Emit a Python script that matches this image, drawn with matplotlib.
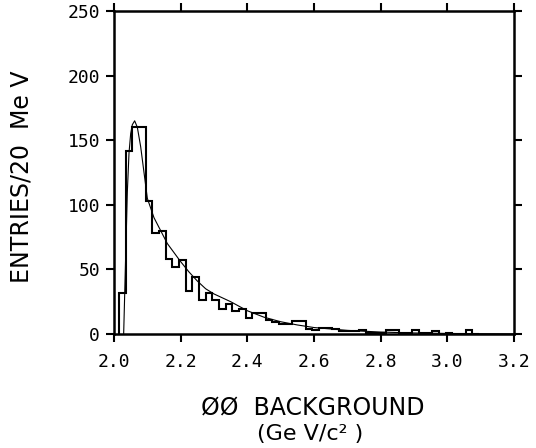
import numpy as np
import matplotlib
matplotlib.use("Agg")
import matplotlib.pyplot as plt

# histogramme : 20 MeV par bin
bin_start = 2.015
bin_width = 0.02
counts = [32, 142, 160, 160, 103, 78, 80, 58, 52, 57,
          33, 44, 26, 32, 26, 19, 23, 18, 19, 12,
          16, 16, 11, 9, 8, 8, 10, 10, 4, 3,
          5, 5, 4, 2, 2, 2, 3, 1, 1, 1,
          3, 3, 1, 1, 3, 1, 1, 2, 0, 1,
          0, 0, 3, 0]

# courbe d'ajustement
fit_mass = [2.029, 2.035, 2.040, 2.045, 2.050, 2.055, 2.062, 2.070, 2.080, 2.090,
            2.100, 2.120, 2.140, 2.160, 2.180, 2.200, 2.225, 2.250, 2.275, 2.300,
            2.350, 2.400, 2.450, 2.500, 2.550, 2.600, 2.700, 2.800, 2.900, 3.000,
            3.100, 3.200]
fit_val = [0, 60, 110, 140, 155, 162, 165, 160, 145, 125,
           105, 90, 80, 70, 63, 56, 48, 41, 35, 31,
           25, 18, 13, 9.5, 7, 5, 2.8, 1.5, 0.8, 0.4,
           0.2, 0.1]

x_ticks = [2.0, 2.2, 2.4, 2.6, 2.8, 3.0, 3.2]
y_ticks = [0, 50, 100, 150, 200, 250]

edges = bin_start + bin_width * np.arange(len(counts) + 1)

fig = plt.figure(figsize=(5.36, 4.48), dpi=100)
ax = fig.add_axes([114 / 536, 1 - 334 / 448, 400 / 536, 323 / 448])

ax.stairs(counts, edges, color="black", linewidth=1.5)
ax.plot(fit_mass, fit_val, color="black", linewidth=0.8)

ax.set_xlim(2.0, 3.2)
ax.set_ylim(0, 250)
ax.set_xticks(x_ticks)
ax.set_yticks(y_ticks)
ax.set_xticklabels(["%.1f" % v for v in x_ticks], family="DejaVu Sans Mono", fontsize=13)
ax.set_yticklabels([str(v) for v in y_ticks], family="DejaVu Sans Mono", fontsize=13)
ax.tick_params(direction="out", length=6, width=1.5, top=True, right=True,
               labeltop=False, labelright=False, pad=4)
ax.tick_params(axis="x", pad=8)
for s in ax.spines.values():
    s.set_linewidth(1.8)

fig.text(22 / 536, 1 - 177 / 448, "ENTRIES/20  Me V", rotation=90,
         ha="center", va="center", fontsize=17)
fig.text(313 / 536, 1 - 407 / 448, "ØØ  BACKGROUND", ha="center", va="center", fontsize=17)
fig.text(310 / 536, 1 - 434 / 448, "(Ge V/c² )", ha="center", va="center", fontsize=16)

fig.savefig("out.png", dpi=100)
